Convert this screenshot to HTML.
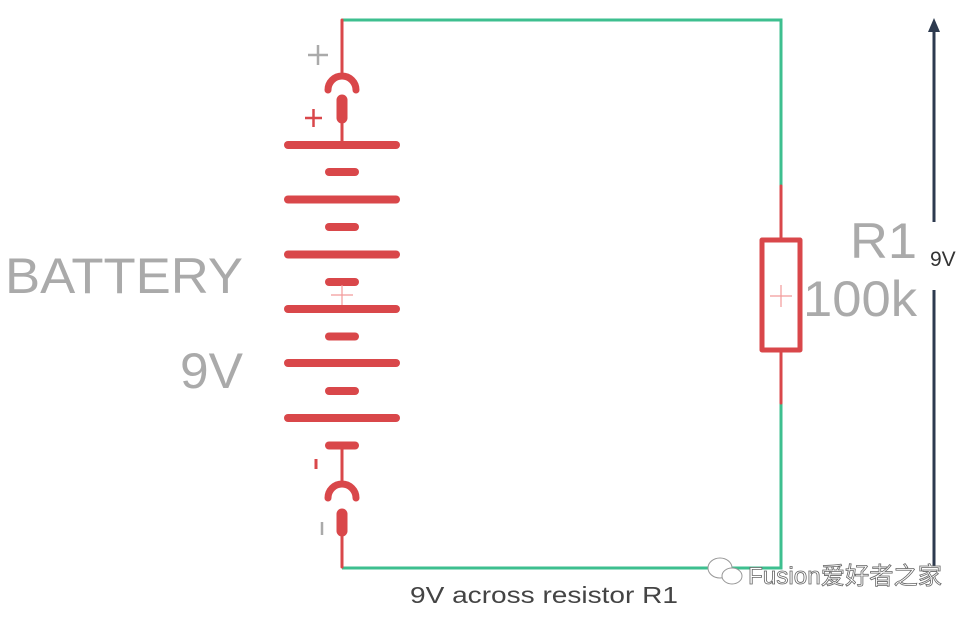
<!DOCTYPE html>
<html><head><meta charset="utf-8"><style>html,body{margin:0;padding:0;background:#fff}svg{display:block}</style></head>
<body>
<svg width="975" height="618" viewBox="0 0 975 618" xmlns="http://www.w3.org/2000/svg" font-family="Liberation Sans, sans-serif">
<g stroke="#3dbf8f" stroke-width="3" fill="none">
<polyline points="342,20 781,20 781,186"/>
<polyline points="342,568 781,568 781,403"/>
</g>
<g stroke="#d9474a" fill="none" stroke-linecap="round">
<line x1="342" y1="20" x2="342" y2="74" stroke-width="3"/>
<path d="M328,90 A14,14 0 0 1 356,90" stroke-width="7"/>
<line x1="342" y1="100" x2="342" y2="118" stroke-width="11"/>
<line x1="342" y1="118" x2="342" y2="145" stroke-width="3"/>
<line x1="288" y1="145" x2="396" y2="145" stroke-width="8"/>
<line x1="288" y1="199.5" x2="396" y2="199.5" stroke-width="8"/>
<line x1="288" y1="254.5" x2="396" y2="254.5" stroke-width="8"/>
<line x1="288" y1="309" x2="396" y2="309" stroke-width="8"/>
<line x1="288" y1="363" x2="396" y2="363" stroke-width="8"/>
<line x1="288" y1="418" x2="396" y2="418" stroke-width="8"/>
<line x1="329" y1="172" x2="355" y2="172" stroke-width="8"/>
<line x1="329" y1="227" x2="355" y2="227" stroke-width="8"/>
<line x1="329" y1="282" x2="355" y2="282" stroke-width="8"/>
<line x1="329" y1="336.5" x2="355" y2="336.5" stroke-width="8"/>
<line x1="329" y1="391" x2="355" y2="391" stroke-width="8"/>
<line x1="329" y1="445.5" x2="355" y2="445.5" stroke-width="8"/>
<line x1="342" y1="445" x2="342" y2="486" stroke-width="3"/>
<path d="M328,498 A14,14 0 0 1 356,498" stroke-width="7"/>
<line x1="342" y1="514" x2="342" y2="531" stroke-width="11"/>
<line x1="342" y1="531" x2="342" y2="567" stroke-width="3"/>
<line x1="781" y1="186" x2="781" y2="239" stroke-width="3"/>
<line x1="781" y1="350" x2="781" y2="403" stroke-width="3"/>
<rect x="762" y="240" width="38" height="110" stroke-width="5" stroke-linejoin="round"/>
<line x1="305" y1="118" x2="322" y2="118" stroke-width="2.5" stroke-linecap="butt"/>
<line x1="313.5" y1="109" x2="313.5" y2="127" stroke-width="2.5" stroke-linecap="butt"/>
<line x1="316" y1="459" x2="316" y2="469" stroke-width="3" stroke-linecap="butt"/>
</g>
<g stroke="#f29a9a" stroke-width="1.2">
<line x1="331" y1="295" x2="353" y2="295"/><line x1="342" y1="285" x2="342" y2="305"/>
<line x1="770" y1="296" x2="792" y2="296"/><line x1="781" y1="285" x2="781" y2="307"/>
</g>
<g stroke="#aaa" stroke-width="2.5">
<line x1="308" y1="55" x2="328" y2="55"/><line x1="318" y1="45" x2="318" y2="65"/>
<line x1="322" y1="522" x2="322" y2="535"/>
</g>
<g stroke="#2d3a4f" stroke-width="3">
<line x1="934" y1="30" x2="934" y2="222"/>
<line x1="934" y1="290" x2="934" y2="568"/>
</g>
<polygon points="934,18 928,32 940,32" fill="#2d3a4f"/>
<g fill="#aaa">
<text x="5" y="293" font-size="50" textLength="238" lengthAdjust="spacingAndGlyphs">BATTERY</text>
<text x="180" y="388" font-size="50" textLength="63" lengthAdjust="spacingAndGlyphs">9V</text>
<text x="850" y="258" font-size="50" textLength="67" lengthAdjust="spacingAndGlyphs">R1</text>
<text x="803" y="316" font-size="50" textLength="114" lengthAdjust="spacingAndGlyphs">100k</text>
</g>
<text x="930" y="266" font-size="21" fill="#333">9V</text>
<text x="410" y="603" font-size="23" fill="#444" textLength="268" lengthAdjust="spacingAndGlyphs">9V across resistor R1</text>
<g fill="#fff" stroke="#999" stroke-width="1">
<ellipse cx="720" cy="568" rx="12" ry="10"/>
<ellipse cx="732" cy="576" rx="10" ry="8"/>
</g>
<text x="748" y="584" font-size="24" fill="#fff" stroke="#666" stroke-width="0.8" textLength="194" lengthAdjust="spacingAndGlyphs" font-family="Liberation Sans, Noto Sans CJK SC, sans-serif">Fusion爱好者之家</text>
</svg>
</body></html>
